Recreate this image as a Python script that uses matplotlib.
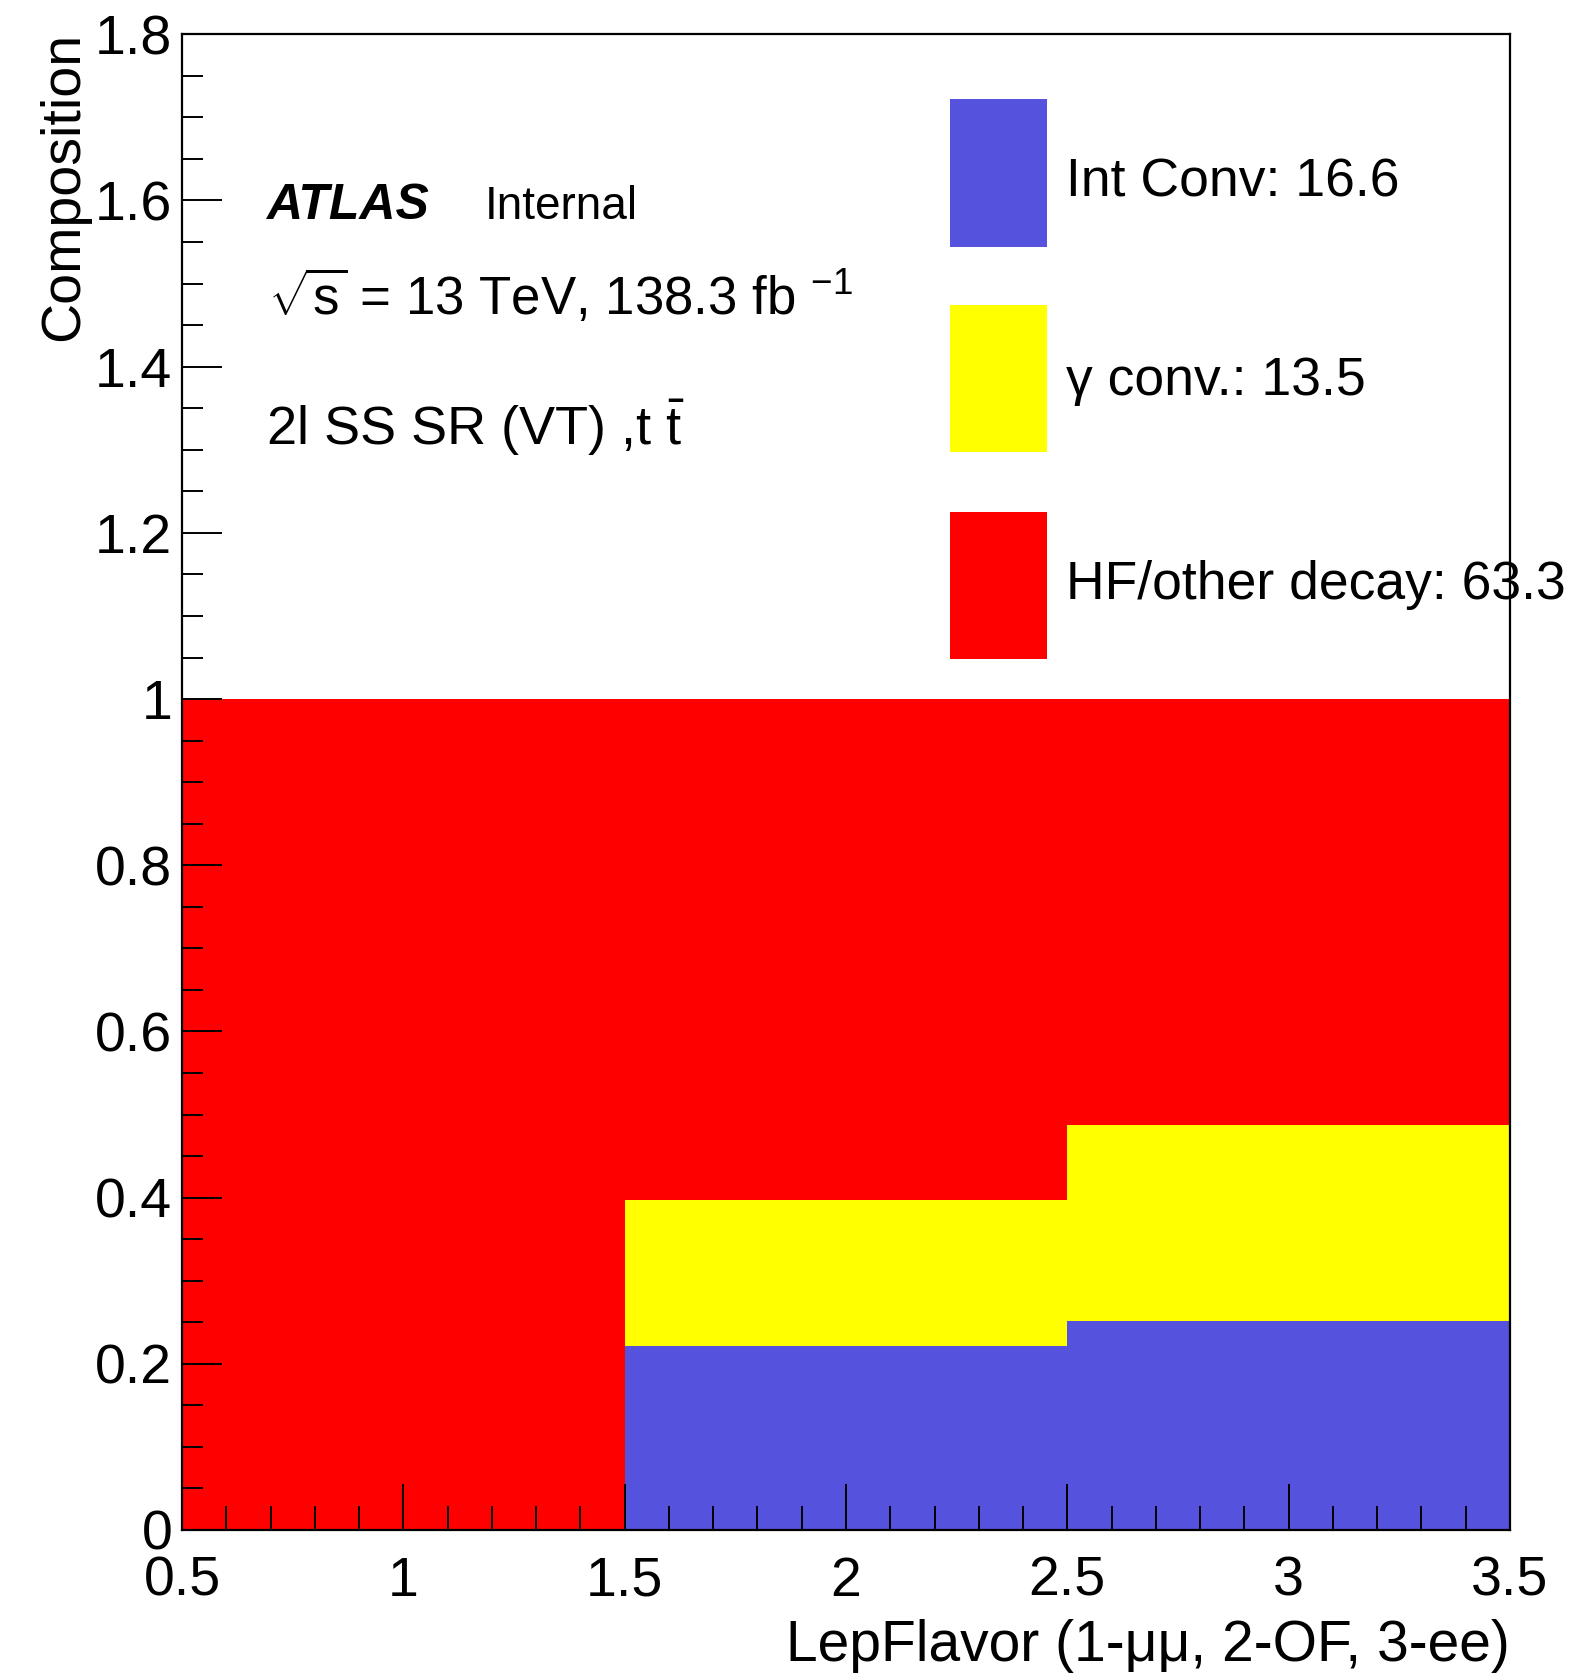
import matplotlib
matplotlib.use("Agg")
import matplotlib.pyplot as plt
from matplotlib.patches import Rectangle
from matplotlib.ticker import MultipleLocator, FormatStrFormatter

# ---- data: fractional composition per lepton-flavour bin ----
bin_edges = [0.5, 1.5, 2.5, 3.5]
int_conv = [0.0, 0.222, 0.252]
gamma_conv = [0.0, 0.175, 0.235]
hf_other = [1.0, 0.603, 0.513]

component_labels = ["Int Conv: 16.6", "\u03b3 conv.: 13.5", "HF/other decay: 63.3"]
component_colors = ["#5552dd", "#ffff00", "#ff0000"]

x_title = "LepFlavor (1-\u03bc\u03bc, 2-OF, 3-ee)"
y_title = "Composition"

# ---- styling ----
plt.rcParams['font.family'] = ['Liberation Sans', 'DejaVu Sans']
plt.rcParams['mathtext.fontset'] = 'custom'
plt.rcParams['mathtext.rm'] = 'Liberation Sans'
plt.rcParams['mathtext.it'] = 'Liberation Sans:italic'
plt.rcParams['mathtext.bf'] = 'Liberation Sans:bold'

W, H = 1582, 1679
DPI = 100
fig = plt.figure(figsize=(W / DPI, H / DPI), dpi=DPI)


def fx(px):
    return px / W


def fy(py):
    return 1 - py / H


ax = fig.add_axes([fx(182), fy(1530), fx(1510) - fx(182), fy(34.3) - fy(1530)])

# stacked fills drawn as step histograms
bottom = [0.0] * len(int_conv)
for vals, col in zip([int_conv, gamma_conv, hf_other], component_colors):
    top = [b + v for b, v in zip(bottom, vals)]
    ax.stairs(top, bin_edges, baseline=bottom, fill=True, color=col,
              linewidth=0, zorder=1)
    bottom = top

ax.set_xlim(0.5, 3.5)
ax.set_ylim(0, 1.8)
ax.set_axisbelow(False)

ax.xaxis.set_major_locator(MultipleLocator(0.5))
ax.xaxis.set_minor_locator(MultipleLocator(0.1))
ax.yaxis.set_major_locator(MultipleLocator(0.2))
ax.yaxis.set_minor_locator(MultipleLocator(0.05))
ax.xaxis.set_major_formatter(FormatStrFormatter('%g'))
ax.yaxis.set_major_formatter(FormatStrFormatter('%g'))

ax.tick_params(which='both', direction='in', top=False, right=False,
               color='black', width=1.4)
ax.tick_params(axis='x', which='major', length=33, pad=18.5, labelsize=40)
ax.tick_params(axis='x', which='minor', length=17)
ax.tick_params(axis='y', which='major', length=29, pad=7, labelsize=40)
ax.tick_params(axis='y', which='minor', length=15)

for sp in ax.spines.values():
    sp.set_linewidth(1.6)
    sp.set_zorder(5)

# axis titles (right / top aligned)
fig.text(fx(1510), fy(1661), x_title, ha='right', va='baseline', fontsize=41)
fig.text(fx(64), fy(32), y_title, rotation=90, ha='center', va='top', fontsize=40)

# experiment labels
fig.text(fx(266), fy(219), "ATLAS", fontsize=36, fontweight='bold',
         style='italic', ha='left', va='baseline')
fig.text(fx(485), fy(219), "Internal", fontsize=33, ha='left', va='baseline')
fig.text(fx(268), fy(315), r"$\sqrt{\mathrm{s}}$ = 13 TeV, 138.3 fb $^{-1}$",
         fontsize=38, ha='left', va='baseline')
fig.text(fx(266), fy(445), r"2l SS SR (VT) ,t $\bar{\mathrm{t}}$",
         fontsize=39, ha='left', va='baseline')

# legend: colour boxes with labels
box_tops = [99.5, 305, 512]
box_height = 147
text_baselines = [196.4, 395, 599.5]
for lab, col, bt, tb in zip(component_labels, component_colors, box_tops,
                            text_baselines):
    fig.add_artist(Rectangle((fx(950), fy(bt + box_height)), fx(1047) - fx(950),
                             box_height / H, transform=fig.transFigure,
                             facecolor=col, edgecolor='none'))
    fig.text(fx(1066), fy(tb), lab, fontsize=38.5, ha='left', va='baseline')

fig.savefig("out.png", dpi=DPI)
